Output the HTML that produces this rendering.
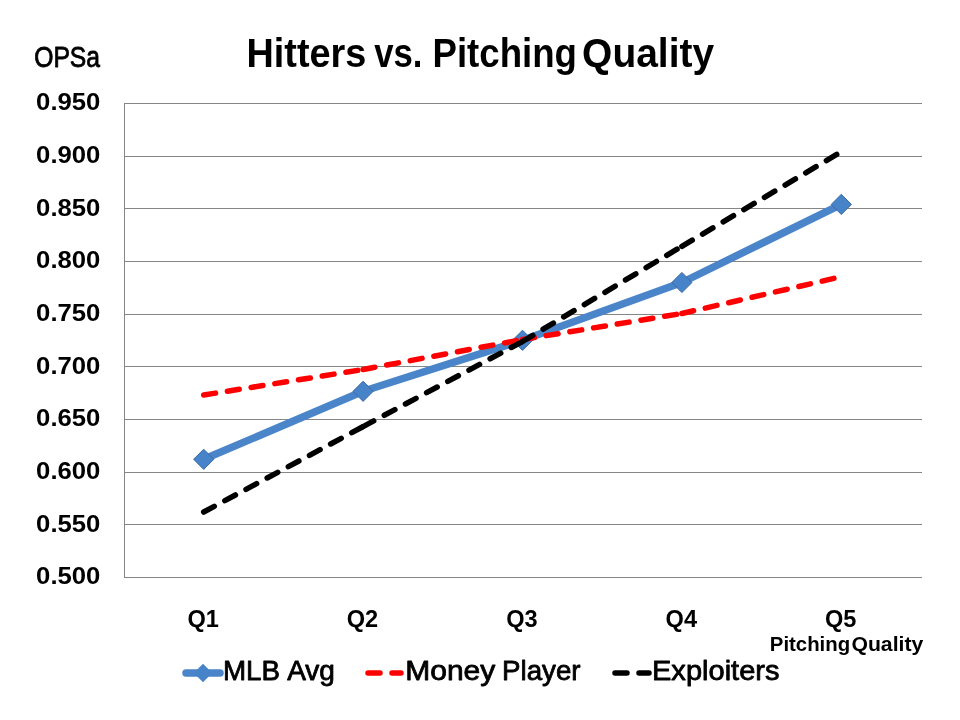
<!DOCTYPE html>
<html><head><meta charset="utf-8"><title>Hitters vs. Pitching Quality</title>
<style>
html,body{margin:0;padding:0;background:#fff;width:960px;height:720px;overflow:hidden;font-family:"Liberation Sans",sans-serif;}
svg{display:block;will-change:transform}
text{font-family:"Liberation Sans",sans-serif;fill:#000}
</style></head><body>
<svg width="960" height="720" viewBox="0 0 960 720">
<rect width="960" height="720" fill="#fff"/>
<line x1="124.0" y1="103.5" x2="922.0" y2="103.5" stroke="#868686" stroke-width="1"/>
<line x1="124.0" y1="156.5" x2="922.0" y2="156.5" stroke="#868686" stroke-width="1"/>
<line x1="124.0" y1="208.5" x2="922.0" y2="208.5" stroke="#868686" stroke-width="1"/>
<line x1="124.0" y1="261.5" x2="922.0" y2="261.5" stroke="#868686" stroke-width="1"/>
<line x1="124.0" y1="314.5" x2="922.0" y2="314.5" stroke="#868686" stroke-width="1"/>
<line x1="124.0" y1="366.5" x2="922.0" y2="366.5" stroke="#868686" stroke-width="1"/>
<line x1="124.0" y1="419.5" x2="922.0" y2="419.5" stroke="#868686" stroke-width="1"/>
<line x1="124.0" y1="472.5" x2="922.0" y2="472.5" stroke="#868686" stroke-width="1"/>
<line x1="124.0" y1="524.5" x2="922.0" y2="524.5" stroke="#868686" stroke-width="1"/>
<line x1="124.0" y1="577.5" x2="922.0" y2="577.5" stroke="#868686" stroke-width="1"/>
<line x1="124.5" y1="103.0" x2="124.5" y2="578.0" stroke="#868686" stroke-width="1"/>
<polyline points="203.70,459.30 363.10,391.30 522.50,340.30 681.90,282.50 841.30,204.40" fill="none" stroke="#4A85CA" stroke-width="7.5" stroke-linejoin="round" stroke-linecap="round"/>
<path d="M203.70,449.20 L213.80,459.30 L203.70,469.40 L193.60,459.30Z" fill="#4783C8" stroke="#3C6BA6" stroke-width="1.0"/>
<path d="M363.10,381.20 L373.20,391.30 L363.10,401.40 L353.00,391.30Z" fill="#4783C8" stroke="#3C6BA6" stroke-width="1.0"/>
<path d="M522.50,330.20 L532.60,340.30 L522.50,350.40 L512.40,340.30Z" fill="#4783C8" stroke="#3C6BA6" stroke-width="1.0"/>
<path d="M681.90,272.40 L692.00,282.50 L681.90,292.60 L671.80,282.50Z" fill="#4783C8" stroke="#3C6BA6" stroke-width="1.0"/>
<path d="M841.30,194.30 L851.40,204.40 L841.30,214.50 L831.20,204.40Z" fill="#4783C8" stroke="#3C6BA6" stroke-width="1.0"/>
<line x1="203.70" y1="395.00" x2="363.10" y2="369.50" stroke="#FF0000" stroke-width="5.5" stroke-dasharray="12 12" stroke-linecap="round"/>
<line x1="363.10" y1="369.50" x2="522.50" y2="339.50" stroke="#FF0000" stroke-width="5.5" stroke-dasharray="12 12" stroke-linecap="round"/>
<line x1="522.50" y1="339.50" x2="681.90" y2="313.50" stroke="#FF0000" stroke-width="5.5" stroke-dasharray="12 12" stroke-linecap="round"/>
<line x1="681.90" y1="313.50" x2="841.30" y2="276.70" stroke="#FF0000" stroke-width="5.5" stroke-dasharray="12 12" stroke-linecap="round"/>
<line x1="203.70" y1="512.00" x2="363.10" y2="426.60" stroke="#000000" stroke-width="5.5" stroke-dasharray="12 12" stroke-linecap="round"/>
<line x1="363.10" y1="426.60" x2="522.50" y2="341.50" stroke="#000000" stroke-width="5.5" stroke-dasharray="12 12" stroke-linecap="round"/>
<line x1="522.50" y1="341.50" x2="681.90" y2="246.30" stroke="#000000" stroke-width="5.5" stroke-dasharray="12 12" stroke-linecap="round"/>
<line x1="681.90" y1="246.30" x2="841.30" y2="151.70" stroke="#000000" stroke-width="5.5" stroke-dasharray="12 12" stroke-linecap="round"/>
<text x="246.53" y="66.80" font-size="40.0" textLength="119.82" lengthAdjust="spacingAndGlyphs" font-weight="bold">Hitters</text>
<text x="374.20" y="66.80" font-size="40.0" textLength="48.22" lengthAdjust="spacingAndGlyphs" font-weight="bold">vs.</text>
<text x="432.45" y="66.80" font-size="40.0" textLength="144.55" lengthAdjust="spacingAndGlyphs" font-weight="bold">Pitching</text>
<text x="582.10" y="66.80" font-size="40.0" textLength="132.08" lengthAdjust="spacingAndGlyphs" font-weight="bold">Quality</text>
<text x="34.20" y="66.60" font-size="28.8" textLength="65.85" lengthAdjust="spacingAndGlyphs" stroke="#000" stroke-width="0.8" stroke-linejoin="round">OPSa</text>
<text x="769.80" y="650.50" font-size="19.8" textLength="80.38" lengthAdjust="spacingAndGlyphs" font-weight="bold">Pitching</text>
<text x="851.40" y="650.50" font-size="19.8" textLength="71.89" lengthAdjust="spacingAndGlyphs" font-weight="bold">Quality</text>
<text x="222.90" y="680.40" font-size="28.1" textLength="57.17" lengthAdjust="spacingAndGlyphs" stroke="#000" stroke-width="0.8" stroke-linejoin="round">MLB</text>
<text x="287.20" y="680.40" font-size="28.1" textLength="47.76" lengthAdjust="spacingAndGlyphs" stroke="#000" stroke-width="0.8" stroke-linejoin="round">Avg</text>
<text x="405.20" y="680.40" font-size="28.1" textLength="90.1" lengthAdjust="spacingAndGlyphs" stroke="#000" stroke-width="0.8" stroke-linejoin="round">Money</text>
<text x="502.00" y="680.40" font-size="28.1" textLength="78.53" lengthAdjust="spacingAndGlyphs" stroke="#000" stroke-width="0.8" stroke-linejoin="round">Player</text>
<text x="652.00" y="680.40" font-size="28.1" textLength="127.5" lengthAdjust="spacingAndGlyphs" stroke="#000" stroke-width="0.8" stroke-linejoin="round">Exploiters</text>
<text x="36.10" y="110.20" font-size="23.5" textLength="64.27" lengthAdjust="spacingAndGlyphs" font-weight="bold">0.950</text>
<text x="36.10" y="162.87" font-size="23.5" textLength="64.27" lengthAdjust="spacingAndGlyphs" font-weight="bold">0.900</text>
<text x="36.10" y="215.53" font-size="23.5" textLength="64.27" lengthAdjust="spacingAndGlyphs" font-weight="bold">0.850</text>
<text x="36.10" y="268.20" font-size="23.5" textLength="64.27" lengthAdjust="spacingAndGlyphs" font-weight="bold">0.800</text>
<text x="36.10" y="320.87" font-size="23.5" textLength="64.27" lengthAdjust="spacingAndGlyphs" font-weight="bold">0.750</text>
<text x="36.10" y="373.53" font-size="23.5" textLength="64.27" lengthAdjust="spacingAndGlyphs" font-weight="bold">0.700</text>
<text x="36.10" y="426.20" font-size="23.5" textLength="64.27" lengthAdjust="spacingAndGlyphs" font-weight="bold">0.650</text>
<text x="36.10" y="478.87" font-size="23.5" textLength="64.27" lengthAdjust="spacingAndGlyphs" font-weight="bold">0.600</text>
<text x="36.10" y="531.53" font-size="23.5" textLength="64.27" lengthAdjust="spacingAndGlyphs" font-weight="bold">0.550</text>
<text x="36.10" y="584.20" font-size="23.5" textLength="64.27" lengthAdjust="spacingAndGlyphs" font-weight="bold">0.500</text>
<text x="187.40" y="626.80" font-size="23.6" textLength="31.44" lengthAdjust="spacingAndGlyphs" font-weight="bold">Q1</text>
<text x="346.80" y="626.80" font-size="23.6" textLength="31.44" lengthAdjust="spacingAndGlyphs" font-weight="bold">Q2</text>
<text x="506.20" y="626.80" font-size="23.6" textLength="31.44" lengthAdjust="spacingAndGlyphs" font-weight="bold">Q3</text>
<text x="665.60" y="626.80" font-size="23.6" textLength="31.44" lengthAdjust="spacingAndGlyphs" font-weight="bold">Q4</text>
<text x="825.00" y="626.80" font-size="23.6" textLength="31.44" lengthAdjust="spacingAndGlyphs" font-weight="bold">Q5</text>
<line x1="186" y1="673" x2="220" y2="673" stroke="#4A85CA" stroke-width="7.5" stroke-linecap="round"/>
<path d="M203,663.8 L212.2,673 L203,682.2 L193.8,673Z" fill="#4783C8"/>
<line x1="368" y1="673" x2="401" y2="673" stroke="#FF0000" stroke-width="5.5" stroke-dasharray="12 12" stroke-linecap="round"/>
<line x1="615" y1="673" x2="649" y2="673" stroke="#000" stroke-width="5.5" stroke-dasharray="12 12" stroke-linecap="round"/>
</svg>
</body></html>
